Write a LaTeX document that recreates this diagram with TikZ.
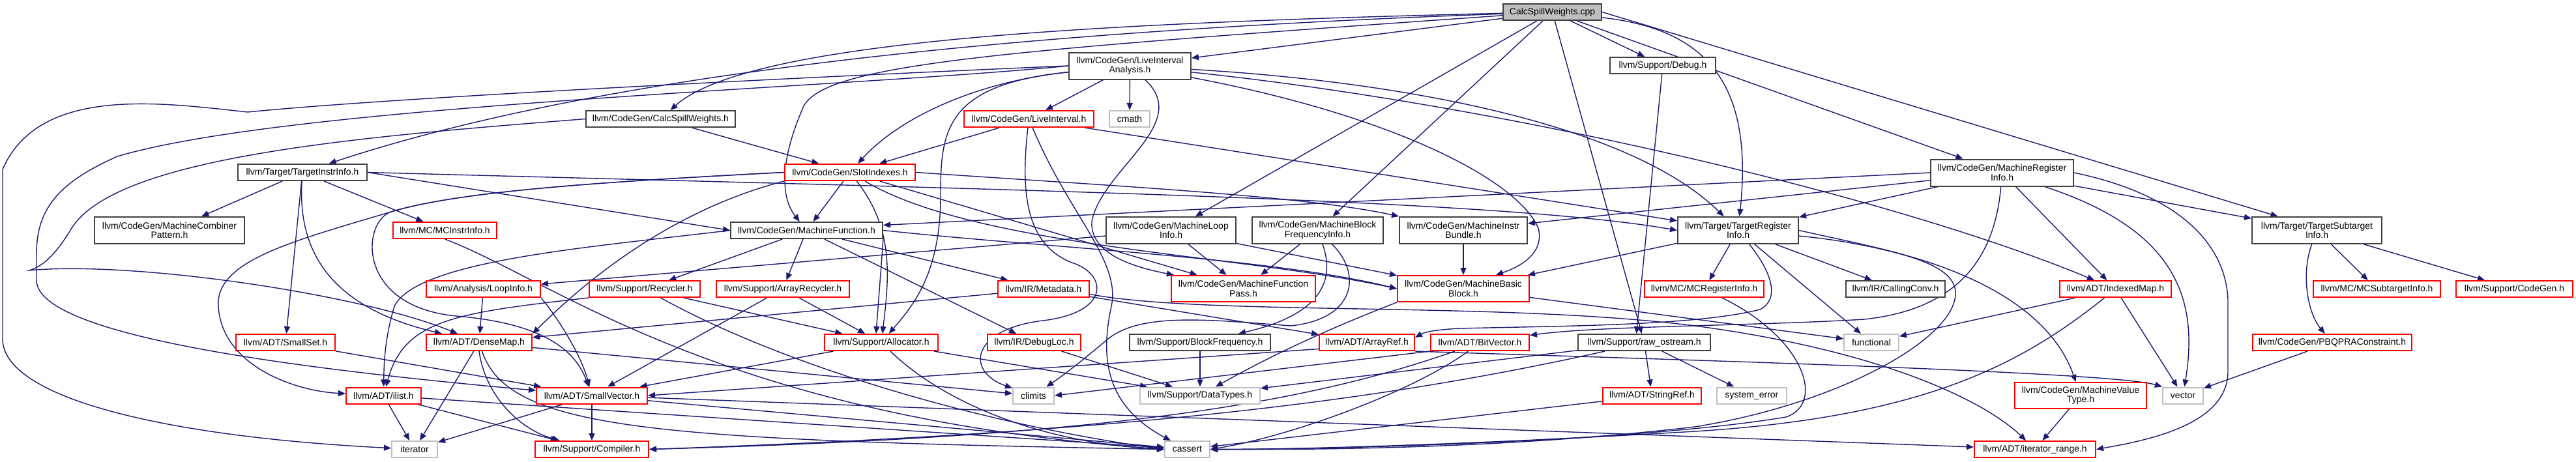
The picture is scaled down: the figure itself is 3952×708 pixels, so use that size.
\documentclass[tikz,border=0pt]{standalone}
\usepackage{fontspec}
\setmainfont{Liberation Sans}
\usetikzlibrary{arrows.meta}
\definecolor{edgec}{HTML}{191970}
\definecolor{redb}{HTML}{FF0000}
\definecolor{grayb}{HTML}{BFBFBF}
\definecolor{blkb}{HTML}{404040}
\pgfdeclarelayer{bg}
\pgfsetlayers{bg,main}
\newcommand\nfont{\fontsize{7pt}{7.3pt}\selectfont}
\begin{document}
\begin{tikzpicture}[x=0.5pt,y=-0.5pt,
  nb/.style={draw=blkb,line width=1pt,fill=white,font=\nfont,align=center,inner sep=0pt,minimum height=12.5pt},
  nr/.style={nb,draw=redb},
  ng/.style={nb,draw=grayb},
  two/.style={minimum height=20.5pt},
  e/.style={draw=edgec,line width=0.7pt,-{Triangle[length=5.5pt,width=4.5pt]}}]
\useasboundingbox (0,0) rectangle (3952,708);
% row 0-1
\node[nb,fill=grayb,minimum width=75.5pt] (cpp) at (2381.5,18.5) {CalcSpillWeights.cpp};
\node[nb,two,minimum width=93.5pt] (LIA) at (1733.5,101) {llvm/CodeGen/LiveInterval\\Analysis.h};
\node[nb,minimum width=81pt] (Debug) at (2551,100.5) {llvm/Support/Debug.h};
% row 2
\node[nb,minimum width=114.5pt] (CSW) at (1013.5,182.5) {llvm/CodeGen/CalcSpillWeights.h};
\node[nr,minimum width=99.5pt] (LI) at (1578.5,182.5) {llvm/CodeGen/LiveInterval.h};
\node[ng,minimum width=31pt] (cmath) at (1733,182.5) {cmath};
% row 3
\node[nb,minimum width=99pt] (TII) at (464,264.5) {llvm/Target/TargetInstrInfo.h};
\node[nr,minimum width=100pt] (SI) at (1304,264.5) {llvm/CodeGen/SlotIndexes.h};
\node[nb,two,minimum width=109.5pt] (MRI) at (3071.5,265) {llvm/CodeGen/MachineRegister\\Info.h};
% row 4
\node[nb,two,minimum width=115pt] (MCP) at (260,353.5) {llvm/CodeGen/MachineCombiner\\Pattern.h};
\node[nr,minimum width=79.5pt] (MCII) at (682.5,353.5) {llvm/MC/MCInstrInfo.h};
\node[nb,minimum width=116.5pt] (MF) at (1237.5,353.5) {llvm/CodeGen/MachineFunction.h};
\node[nb,two,minimum width=99.5pt] (MLI) at (1796.5,353.5) {llvm/CodeGen/MachineLoop\\Info.h};
\node[nb,two,minimum width=100.5pt] (MBFI) at (2021.5,353.5) {llvm/CodeGen/MachineBlock\\FrequencyInfo.h};
\node[nb,two,minimum width=98pt] (MIB) at (2245,353.5) {llvm/CodeGen/MachineInstr\\Bundle.h};
\node[nb,two,minimum width=92.5pt] (TRI) at (2666.5,353.5) {llvm/Target/TargetRegister\\Info.h};
\node[nb,two,minimum width=99.5pt] (TSI) at (3554.5,353.5) {llvm/Target/TargetSubtarget\\Info.h};
% row 5
\node[nr,minimum width=87.5pt] (LoopInfo) at (741.5,443.5) {llvm/Analysis/LoopInfo.h};
\node[nr,minimum width=85pt] (Recycler) at (989,443.5) {llvm/Support/Recycler.h};
\node[nr,minimum width=102pt] (ARec) at (1201,443.5) {llvm/Support/ArrayRecycler.h};
\node[nr,minimum width=70pt] (Meta) at (1601,443.5) {llvm/IR/Metadata.h};
\node[nr,minimum width=110.5pt,minimum height=20pt] (MFP) at (1907.5,443) {llvm/CodeGen/MachineFunction\\Pass.h};
\node[nr,minimum width=101pt,minimum height=20pt] (MBB) at (2245,443) {llvm/CodeGen/MachineBasic\\Block.h};
\node[nr,minimum width=91.5pt] (MCRI) at (2614.5,443.5) {llvm/MC/MCRegisterInfo.h};
\node[nb,minimum width=76pt] (CC) at (2908,443.5) {llvm/IR/CallingConv.h};
\node[nr,minimum width=85.5pt] (IM) at (3245.5,443.5) {llvm/ADT/IndexedMap.h};
\node[nr,minimum width=97.5pt] (MCSTI) at (3646.5,443.5) {llvm/MC/MCSubtargetInfo.h};
\node[nr,minimum width=89.5pt] (SCG) at (3857.5,443.5) {llvm/Support/CodeGen.h};
% row 6
\node[nr,minimum width=76pt] (SmallSet) at (438,525.5) {llvm/ADT/SmallSet.h};
\node[nr,minimum width=81pt] (DM) at (735,525.5) {llvm/ADT/DenseMap.h};
\node[nr,minimum width=87pt] (Alloc) at (1352,525.5) {llvm/Support/Allocator.h};
\node[nr,minimum width=71.5pt] (DL) at (1586.5,525.5) {llvm/IR/DebugLoc.h};
\node[nb,minimum width=108pt] (BF) at (1841,525.5) {llvm/Support/BlockFrequency.h};
\node[nr,minimum width=73pt] (AR) at (2097,525.5) {llvm/ADT/ArrayRef.h};
\node[nr,minimum width=75.5pt] (BV) at (2270.5,525.5) {llvm/ADT/BitVector.h};
\node[nb,minimum width=101.5pt] (RO) at (2522.5,525.5) {llvm/Support/raw\_ostream.h};
\node[ng,minimum width=42pt] (func) at (2871,525.5) {functional};
\node[nr,minimum width=122pt] (PBQP) at (3578,525.5) {llvm/CodeGen/PBQPRAConstraint.h};
% row 7
\node[nr,minimum width=57.5pt] (ilist) at (588.5,607) {llvm/ADT/ilist.h};
\node[nr,minimum width=85pt] (SV) at (908,607) {llvm/ADT/SmallVector.h};
\node[ng,minimum width=31.5pt] (climits) at (1585.5,607) {climits};
\node[ng,minimum width=92pt] (DT) at (1841,607) {llvm/Support/DataTypes.h};
\node[nr,minimum width=75.5pt] (SR) at (2534.5,607) {llvm/ADT/StringRef.h};
\node[ng,minimum width=53.5pt] (SE) at (2687.5,607) {system\_error};
\node[nr,minimum width=101pt,minimum height=20pt] (MVT) at (3192,607) {llvm/CodeGen/MachineValue\\Type.h};
\node[ng,minimum width=31pt] (vec) at (3349,607) {vector};
% row 8
\node[ng,minimum width=35pt] (iter) at (636,689.5) {iterator};
\node[nr,minimum width=87pt] (Comp) at (908,689.5) {llvm/Support/Compiler.h};
\node[ng,minimum width=34.5pt] (cassert) at (1821.5,689.5) {cassert};
\node[nr,minimum width=93pt] (IR) at (3122,689.5) {llvm/ADT/iterator\_range.h};

\begin{pgfonlayer}{bg}
% from cpp
\draw[e] (cpp) .. controls (1700,35) and (1150,60) .. (CSW);
\draw[e] (cpp) -- (LIA);
\draw[e] (cpp) -- (MBFI);
\draw[e] (cpp) .. controls (1500,80) and (1250,100) .. (1230,170) .. controls (1200,240) and (1195,300) .. (MF);
\draw[e] (cpp) -- (MLI);
\draw[e] (cpp) -- (MRI);
\draw[e] (cpp) -- (Debug);
\draw[e] (cpp) -- (RO);
\draw[e] (cpp) .. controls (1500,50) and (900,120) .. (TII);
\draw[e] (cpp) .. controls (2620,45) and (2690,130) .. (TRI);
\draw[e] (cpp.east) -- ([xshift=-30pt]TSI.north);
\draw[e] (Debug) -- ([xshift=-6pt]RO.north);
% from LiveIntervalAnalysis
\draw[e] (LIA) -- (LI);
\draw[e] (LIA) -- (cmath);
\draw[e] (LIA) .. controls (1500,125) and (1380,180) .. (SI);
\draw[e] (LIA.west) .. controls (1200,120) and (600,150) .. (380,172) .. controls (250,158) and (60,130) .. (4,260) -- (4,520) .. controls (4,610) and (250,670) .. (iter);
\draw[e] (LIA.west) .. controls (1300,135) and (450,160) .. (180,240) .. controls (90,280) and (56,320) .. (56,390) -- (56,430) .. controls (56,520) and (500,570) .. (SV);
\draw[e] (LIA) .. controls (2300,160) and (2900,300) .. (IM);
\draw[e] (LIA) .. controls (2150,125) and (2500,190) .. (TRI);
\draw[e] (LIA) .. controls (2150,180) and (2330,280) .. (2360,350) .. controls (2370,390) and (2330,410) .. ([xshift=25pt]MBB.north);
\draw[e] (LIA) .. controls (1830,190) and (1690,260) .. (1675,340) .. controls (1672,390) and (1740,410) .. (MFP);
\draw[e] (LIA) .. controls (1450,130) and (1443,200) .. (1443,300) .. controls (1443,420) and (1400,470) .. (Alloc);
% CalcSpillWeights.h
\draw[e] (CSW) -- (SI);
\draw[e] (CSW.west) .. controls (550,210) and (180,240) .. (110,350) .. controls (80,400) and (60,410) .. (45,415) .. controls (200,400) and (550,450) .. (DM);
% LiveInterval.h
\draw[e] (LI) -- (SI);
\draw[e] (LI) -- (TRI);
\draw[e] (LI) .. controls (1565,300) and (1575,380) .. (1650,405) .. controls (1700,425) and (1700,480) .. (1600,492) .. controls (1490,505) and (1480,570) .. (climits);
\draw[e] (LI) .. controls (1640,330) and (1720,400) .. (1705,470) .. controls (1690,540) and (1690,620) .. (cassert);
% TargetInstrInfo.h
\draw[e] (TII) -- (MCP);
\draw[e] (TII) -- (MCII);
\draw[e] (TII) -- (SmallSet);
\draw[e] (TII) .. controls (457,380) and (500,470) .. (DM);
\draw[e] (TII.east) -- (MF.west);
\draw[e] (TII.east) .. controls (1500,290) and (2300,305) .. (TRI.west);
% SlotIndexes.h
\draw[e] (SI) -- (MF);
\draw[e] (SI.east) .. controls (1700,285) and (2000,300) .. (MIB.north west);
\draw[e] (SI) -- (MFP);
\draw[e] (SI) .. controls (1500,380) and (1900,390) .. (MBB.west);
\draw[e] (SI.west) .. controls (900,280) and (700,295) .. (600,325) .. controls (450,370) and (330,400) .. (335,470) .. controls (340,560) and (450,600) .. (ilist);
\draw[e] (SI.west) .. controls (900,280) and (700,295) .. (600,325) .. controls (555,340) and (545,470) .. (700,485) .. controls (820,495) and (880,530) .. (SV);
\draw[e] (SI) .. controls (1370,350) and (1365,420) .. (Alloc);
\draw[e] (SI.south west) .. controls (1000,330) and (860,470) .. (DM.north east);
% MachineRegisterInfo.h
\draw[e] (MRI.west) -- ([yshift=4pt]MF.east);
\draw[e] (MRI) -- (MIB);
\draw[e] (MRI) -- (TRI);
\draw[e] (MRI) -- (TSI);
\draw[e] (MRI) -- (IM);
\draw[e] (MRI) .. controls (3060,400) and (3000,475) .. (2860,490) .. controls (2700,500) and (2450,500) .. (BV);
\draw[e] (MRI.east) .. controls (3350,300) and (3415,380) .. (3418,460) -- (3418,570) .. controls (3418,650) and (3300,675) .. (IR.east);
\draw[e] (MRI) .. controls (3330,350) and (3375,450) .. (vec);
% MachineFunction.h
\draw[e] (MF.east) .. controls (1600,380) and (1950,395) .. (MBB.west);
\draw[e] (MF.west) .. controls (900,380) and (640,400) .. (605,470) .. controls (590,520) and (589,560) .. (ilist);
\draw[e] (MF) -- (Recycler);
\draw[e] (MF) -- (ARec);
\draw[e] (MF.south east) -- ([xshift=-4pt]Alloc.north);
\draw[e] (MF) -- (Meta);
\draw[e] (MF) -- (DL);
% MachineLoopInfo.h, MachineBlockFrequencyInfo.h, MachineInstrBundle.h
\draw[e] (MLI) -- (LoopInfo);
\draw[e] (MLI) -- (MFP);
\draw[e] (MLI) -- (MBB);
\draw[e] (MBFI) -- (MFP);
\draw[e] (MBFI) .. controls (2045,420) and (2040,480) .. (BF);
\draw[e] (MBFI) .. controls (2090,420) and (2080,490) .. (1980,500) .. controls (1850,490) and (1750,480) .. (1700,520) .. controls (1670,545) and (1640,570) .. (climits);
\draw[e] (MIB) -- (MBB);
% TargetRegisterInfo.h
\draw[e] (TRI) -- (MBB);
\draw[e] (TRI) -- (MCRI);
\draw[e] (TRI) -- (CC);
\draw[e] (TRI) -- (func);
\draw[e] (TRI) .. controls (2900,375) and (3130,430) .. (MVT);
\draw[e] (TRI) .. controls (2720,420) and (2730,460) .. (2700,475) .. controls (2600,500) and (2400,500) .. (2240,504) .. controls (2200,506) and (2185,510) .. ([yshift=-3pt]AR.north east);
\draw[e] (TRI.east) .. controls (2900,385) and (3000,400) .. (3000,450) .. controls (3000,520) and (2820,620) .. (2600,655) .. controls (2300,690) and (2000,690) .. (cassert.east);
% TargetSubtargetInfo.h
\draw[e] (TSI) -- (MCSTI);
\draw[e] (TSI) -- (SCG);
\draw[e] (TSI) .. controls (3530,420) and (3540,480) .. (PBQP);
% IndexedMap, PBQP, MVT, MCRegisterInfo
\draw[e] (IM) -- (func);
\draw[e] (IM) -- (vec);
\draw[e] (IM) .. controls (3100,560) and (2950,640) .. (2600,662) .. controls (2300,680) and (2000,690) .. (cassert.east);
\draw[e] (PBQP) -- (vec);
\draw[e] (MVT) -- (IR);
\draw[e] (MCRI) .. controls (2770,520) and (2800,620) .. (2740,640) .. controls (2500,680) and (2000,690) .. (cassert.east);
% LoopInfo, Recycler, ArrayRecycler, Metadata
\draw[e] (LoopInfo) -- (DM);
\draw[e] (LoopInfo.south east) .. controls (850,480) and (890,540) .. (SV);
\draw[e] (Recycler) -- (Alloc);
\draw[e] (Recycler) .. controls (1200,560) and (1500,650) .. (cassert.west);
\draw[e] (Recycler.south west) .. controls (700,480) and (620,490) .. (ilist);
\draw[e] (ARec) -- (SV);
\draw[e] (ARec) -- (Alloc);
\draw[e] (Meta) -- (DM);
\draw[e] (Meta) -- (AR);
\draw[e] ([yshift=-4pt]Meta.east) .. controls (1850,485) and (2300,462) .. (2600,500) .. controls (2900,540) and (3050,620) .. (IR);
% DebugLoc, BlockFrequency, MBB
\draw[e] (DL) -- (DT);
\draw[e] (BF) -- (DT);
\draw[e] (MBB) -- (func);
\draw[e] (MBB.south west) .. controls (2050,500) and (1960,540) .. (DT);
% ArrayRef, BitVector, raw_ostream, StringRef
\draw[e] ([yshift=-5pt]AR.west) -- (SV.east);
\draw[e] (AR.south east) .. controls (2500,550) and (3240,570) .. (vec.north west);
\draw[e] (BV.south west) -- (climits.east);
\draw[e] (BV) .. controls (2000,620) and (1700,670) .. (Comp.east);
\draw[e] (BV) .. controls (2170,600) and (1980,670) .. (cassert.east);
\draw[e] (RO) -- (SR);
\draw[e] (RO) -- (SE);
\draw[e] (RO) -- (DT);
\draw[e] (RO) .. controls (2100,620) and (1700,665) .. (Comp.east);
\draw[e] (SR) -- (cassert);
% Allocator
\draw[e] (Alloc) -- (DT);
\draw[e] (Alloc) -- (SV);
\draw[e] (Alloc) .. controls (1450,620) and (1600,680) .. (cassert.west);
% DenseMap
\draw[e] (DM) -- (iter);
\draw[e] (DM.south) .. controls (745,610) and (800,660) .. (Comp);
\draw[e] (DM) .. controls (780,660) and (1000,675) .. (cassert.west);
\draw[e] (DM) -- (climits);
% SmallVector, ilist, SmallSet, MCInstrInfo
\draw[e] (SV) -- (iter);
\draw[e] (SV) -- (Comp);
\draw[e] (SV) -- (cassert);
\draw[e] (SV) -- (IR);
\draw[e] (ilist) -- (iter);
\draw[e] (ilist) -- (Comp);
\draw[e] (ilist) -- (cassert);
\draw[e] (SmallSet) -- (SV);
\draw[e] (MCII.south) .. controls (850,430) and (1100,640) .. (cassert.west);
\end{pgfonlayer}
\end{tikzpicture}
\end{document}
